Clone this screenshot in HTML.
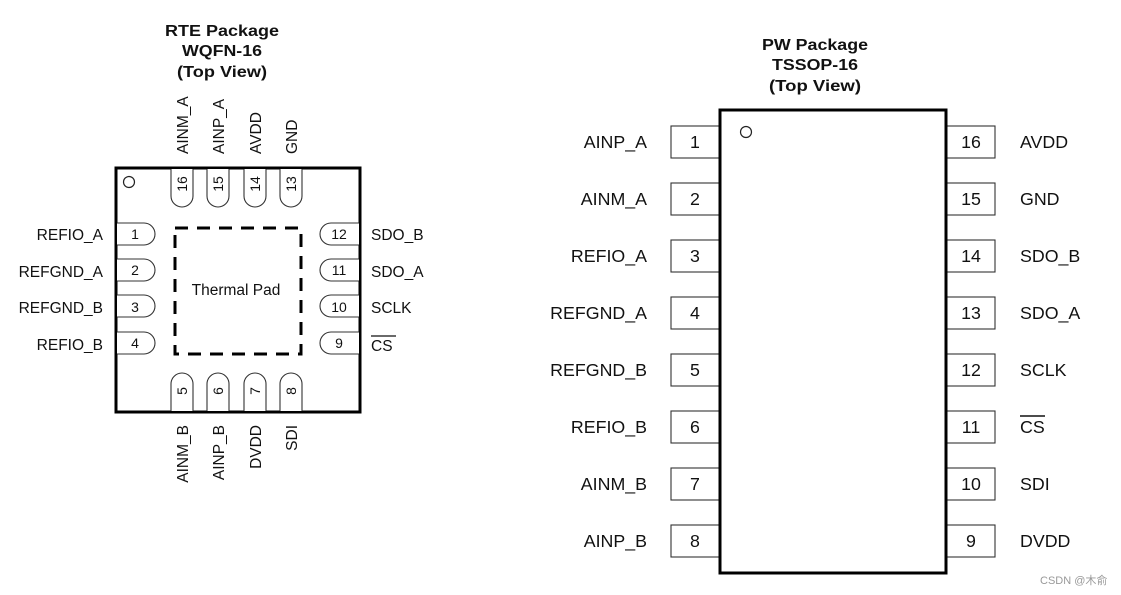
<!DOCTYPE html>
<html><head><meta charset="utf-8"><style>
html,body{margin:0;padding:0;background:#fff;}
svg{display:block;}
text{font-family:"Liberation Sans",sans-serif;fill:#111;}
.t{font-weight:bold;font-size:16px;}
.l{font-size:15.5px;}
.n{font-size:14px;}
.L{font-size:17.8px;}
</style></head><body>
<svg width="1121" height="595" viewBox="0 0 1121 595" xmlns="http://www.w3.org/2000/svg">
<text class="t" x="222" y="36" text-anchor="middle" textLength="114" lengthAdjust="spacingAndGlyphs">RTE Package</text>
<text class="t" x="222" y="56" text-anchor="middle" textLength="80" lengthAdjust="spacingAndGlyphs">WQFN-16</text>
<text class="t" x="222" y="77" text-anchor="middle" textLength="90" lengthAdjust="spacingAndGlyphs">(Top View)</text>

<rect x="116" y="168" width="244" height="244" fill="none" stroke="#000" stroke-width="3"/>
<circle cx="129" cy="182" r="5.5" fill="none" stroke="#222" stroke-width="1.2"/>
<rect x="175" y="228" width="126" height="126" fill="none" stroke="#000" stroke-width="3" stroke-dasharray="13,9"/>
<text class="l" x="236" y="295" text-anchor="middle">Thermal Pad</text>

<g fill="#fff" stroke="#333" stroke-width="1.1">
<path d="M117,223 H144 A11,11 0 0 1 144,245 H117"/>
<path d="M117,259 H144 A11,11 0 0 1 144,281 H117"/>
<path d="M117,295 H144 A11,11 0 0 1 144,317 H117"/>
<path d="M117,332 H144 A11,11 0 0 1 144,354 H117"/>
<path d="M359,223 H331 A11,11 0 0 0 331,245 H359"/>
<path d="M359,259 H331 A11,11 0 0 0 331,281 H359"/>
<path d="M359,295 H331 A11,11 0 0 0 331,317 H359"/>
<path d="M359,332 H331 A11,11 0 0 0 331,354 H359"/>
<path d="M171,169 V196 A11,11 0 0 0 193,196 V169"/>
<path d="M207,169 V196 A11,11 0 0 0 229,196 V169"/>
<path d="M244,169 V196 A11,11 0 0 0 266,196 V169"/>
<path d="M280,169 V196 A11,11 0 0 0 302,196 V169"/>
<path d="M171,411 V384 A11,11 0 0 1 193,384 V411"/>
<path d="M207,411 V384 A11,11 0 0 1 229,384 V411"/>
<path d="M244,411 V384 A11,11 0 0 1 266,384 V411"/>
<path d="M280,411 V384 A11,11 0 0 1 302,384 V411"/>
</g>
<g class="n" text-anchor="middle">
<text x="135" y="239">1</text><text x="135" y="275">2</text><text x="135" y="312">3</text><text x="135" y="348">4</text>
<text x="339" y="239">12</text><text x="339" y="275">11</text><text x="339" y="312">10</text><text x="339" y="348">9</text>
</g>
<g class="n" text-anchor="middle">
<text transform="translate(187,184) rotate(-90)">16</text>
<text transform="translate(223,184) rotate(-90)">15</text>
<text transform="translate(260,184) rotate(-90)">14</text>
<text transform="translate(296,184) rotate(-90)">13</text>
<text transform="translate(187,391) rotate(-90)">5</text>
<text transform="translate(223,391) rotate(-90)">6</text>
<text transform="translate(260,391) rotate(-90)">7</text>
<text transform="translate(296,391) rotate(-90)">8</text>
</g>
<g class="l" text-anchor="end">
<text x="103" y="240">REFIO_A</text><text x="103" y="277">REFGND_A</text><text x="103" y="313">REFGND_B</text><text x="103" y="350">REFIO_B</text>
</g>
<g class="l">
<text x="371" y="240">SDO_B</text><text x="371" y="277">SDO_A</text><text x="371" y="313">SCLK</text><text x="371" y="351">CS</text>
</g>
<line x1="371" y1="336" x2="396" y2="336" stroke="#111" stroke-width="1.3"/>
<g class="l" text-anchor="start">
<text transform="translate(188,154) rotate(-90)">AINM_A</text>
<text transform="translate(224,154) rotate(-90)">AINP_A</text>
<text transform="translate(261,154) rotate(-90)">AVDD</text>
<text transform="translate(297,154) rotate(-90)">GND</text>
</g>
<g class="l" text-anchor="end">
<text transform="translate(188,425) rotate(-90)">AINM_B</text>
<text transform="translate(224,425) rotate(-90)">AINP_B</text>
<text transform="translate(261,425) rotate(-90)">DVDD</text>
<text transform="translate(297,425) rotate(-90)">SDI</text>
</g>

<text class="t" x="815" y="50" text-anchor="middle" textLength="106" lengthAdjust="spacingAndGlyphs">PW Package</text>
<text class="t" x="815" y="70" text-anchor="middle" textLength="86" lengthAdjust="spacingAndGlyphs">TSSOP-16</text>
<text class="t" x="815" y="91" text-anchor="middle" textLength="92" lengthAdjust="spacingAndGlyphs">(Top View)</text>

<g fill="#fff" stroke="#333" stroke-width="1.1">
<rect x="671" y="126" width="49" height="32"/><rect x="671" y="183" width="49" height="32"/>
<rect x="671" y="240" width="49" height="32"/><rect x="671" y="297" width="49" height="32"/>
<rect x="671" y="354" width="49" height="32"/><rect x="671" y="411" width="49" height="32"/>
<rect x="671" y="468" width="49" height="32"/><rect x="671" y="525" width="49" height="32"/>
<rect x="946" y="126" width="49" height="32"/><rect x="946" y="183" width="49" height="32"/>
<rect x="946" y="240" width="49" height="32"/><rect x="946" y="297" width="49" height="32"/>
<rect x="946" y="354" width="49" height="32"/><rect x="946" y="411" width="49" height="32"/>
<rect x="946" y="468" width="49" height="32"/><rect x="946" y="525" width="49" height="32"/>
</g>
<rect x="720" y="110" width="226" height="463" fill="#fff" stroke="#000" stroke-width="3"/>
<circle cx="746" cy="132" r="5.5" fill="none" stroke="#222" stroke-width="1.2"/>
<g class="L" text-anchor="middle">
<text x="695" y="148">1</text><text x="695" y="205">2</text><text x="695" y="262">3</text><text x="695" y="319">4</text>
<text x="695" y="376">5</text><text x="695" y="433">6</text><text x="695" y="490">7</text><text x="695" y="547">8</text>
<text x="971" y="148">16</text><text x="971" y="205">15</text><text x="971" y="262">14</text><text x="971" y="319">13</text>
<text x="971" y="376">12</text><text x="971" y="433">11</text><text x="971" y="490">10</text><text x="971" y="547">9</text>
</g>
<g class="L" text-anchor="end">
<text x="647" y="148">AINP_A</text><text x="647" y="205">AINM_A</text><text x="647" y="262">REFIO_A</text><text x="647" y="319">REFGND_A</text>
<text x="647" y="376">REFGND_B</text><text x="647" y="433">REFIO_B</text><text x="647" y="490">AINM_B</text><text x="647" y="547">AINP_B</text>
</g>
<g class="L">
<text x="1020" y="148">AVDD</text><text x="1020" y="205">GND</text><text x="1020" y="262">SDO_B</text><text x="1020" y="319">SDO_A</text>
<text x="1020" y="376">SCLK</text><text x="1020" y="433">CS</text><text x="1020" y="490">SDI</text><text x="1020" y="547">DVDD</text>
</g>
<line x1="1020" y1="416" x2="1045" y2="416" stroke="#111" stroke-width="1.4"/>
<text x="1040" y="584" style="font-size:11px;fill:#999;font-family:'Liberation Sans','Noto Sans CJK SC',sans-serif;">CSDN @木俞</text>
</svg>
</body></html>
